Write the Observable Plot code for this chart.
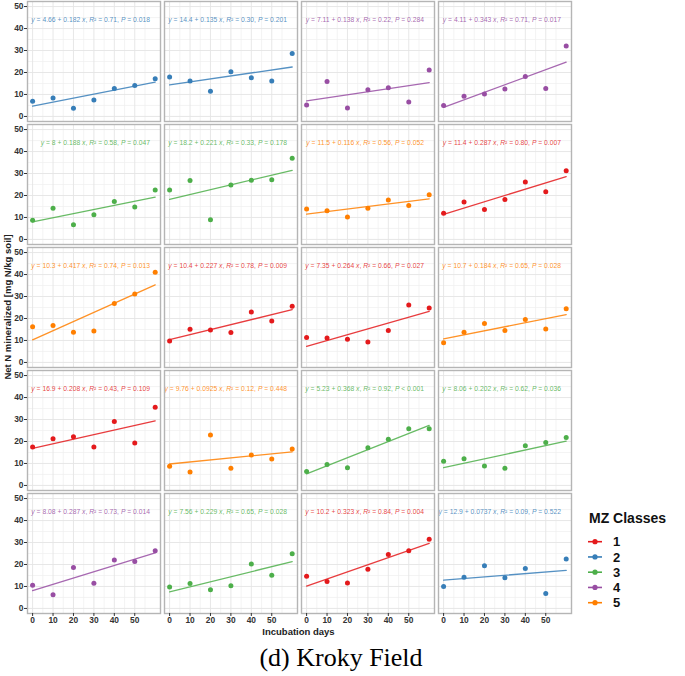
<!DOCTYPE html>
<html><head><meta charset="utf-8">
<script src="https://cdn.jsdelivr.net/npm/d3@7"></script>
<script src="https://cdn.jsdelivr.net/npm/@observablehq/plot@0.6"></script>
<style>
body{margin:0;background:#fff;font-family:"Liberation Sans",Arial,sans-serif;}
#wrap{position:relative;width:685px;height:676px;overflow:hidden;}
#chart{position:absolute;left:0;top:0;}
#legend{position:absolute;left:585px;top:505px;}
#caption{position:absolute;left:0;width:682px;top:643px;text-align:center;font-family:"Liberation Serif","Times New Roman",serif;font-size:26px;line-height:30px;color:#000;}
</style></head><body>
<div id="wrap"><div id="chart"></div><div id="legend"></div><div id="caption">(d) Kroky Field</div></div>
<script>
const days = [0, 10, 20, 30, 40, 50, 60];
const classes = [1, 2, 3, 4, 5];
const classColors = ["#E41A1C", "#377EB8", "#4DAF4A", "#984EA3", "#FF7F00"];
const panelClass = [2, 2, 4, 4, 3, 3, 5, 1, 5, 1, 1, 5, 1, 5, 3, 3, 4, 3, 1, 2];
const intercepts = [4.66, 14.4, 7.11, 4.11, 8, 18.2, 11.5, 11.4, 10.3, 10.4, 7.35, 10.7, 16.9, 9.76, 5.23, 8.06, 8.08, 7.56, 10.2, 12.9];
const slopes = [0.182, 0.135, 0.138, 0.343, 0.188, 0.221, 0.116, 0.287, 0.417, 0.227, 0.264, 0.184, 0.208, 0.0925, 0.368, 0.202, 0.287, 0.229, 0.323, 0.0737];
const r2Labels = ["0.71", "0.30", "0.22", "0.71", "0.58", "0.33", "0.56", "0.80", "0.74", "0.78", "0.66", "0.65", "0.43", "0.12", "0.92", "0.62", "0.73", "0.65", "0.84", "0.09"];
const pLabels = ["= 0.018", "= 0.201", "= 0.284", "= 0.017", "= 0.047", "= 0.178", "= 0.052", "= 0.007", "= 0.013", "= 0.009", "= 0.027", "= 0.028", "= 0.109", "= 0.448", "< 0.001", "= 0.036", "= 0.014", "= 0.028", "= 0.004", "= 0.522"];
const netN = [
  [6.9, 8.4, 3.7, 7.5, 12.7, 14.1, 17.1],
  [18.0, 16.1, 11.5, 20.3, 17.6, 16.1, 28.6],
  [5.2, 15.9, 3.8, 12.2, 13.1, 6.6, 21.1],
  [5.0, 9.2, 10.2, 12.5, 18.2, 12.7, 32.0],
  [8.7, 14.2, 6.7, 11.2, 17.3, 14.8, 22.5],
  [22.5, 26.8, 9.0, 24.8, 26.9, 27.2, 36.9],
  [13.8, 13.0, 10.2, 14.2, 18.0, 15.4, 20.3],
  [11.9, 17.0, 13.6, 18.2, 26.1, 21.7, 31.3],
  [16.2, 16.8, 13.7, 14.3, 26.8, 31.1, 41.0],
  [9.8, 15.1, 14.8, 13.6, 22.9, 18.9, 25.6],
  [11.3, 11.1, 10.5, 9.3, 14.5, 26.1, 24.8],
  [9.0, 13.7, 17.7, 14.5, 19.5, 15.2, 24.4],
  [17.5, 21.2, 22.1, 17.5, 29.1, 19.3, 35.6],
  [8.7, 6.1, 22.9, 7.8, 13.8, 12.0, 16.6],
  [6.4, 9.5, 8.1, 17.2, 21.0, 25.8, 25.8],
  [11.0, 12.1, 8.9, 7.8, 18.1, 19.5, 21.8],
  [10.5, 6.2, 18.6, 11.5, 22.0, 21.4, 26.2],
  [9.8, 11.4, 8.5, 10.3, 20.2, 15.1, 24.9],
  [14.6, 12.3, 11.6, 17.8, 24.5, 26.2, 31.5],
  [10.0, 14.2, 19.4, 14.0, 18.2, 6.8, 22.5]
];
const yTicks = [0, 10, 20, 30, 40, 50];
const xTicks = [0, 10, 20, 30, 40, 50];
const yMinor = [5, 15, 25, 35, 45];
const xMinor = [5, 15, 25, 35, 45, 55];
const xTitle = "Incubation days";
const yTitle = "Net N mineralized [mg N/kg soil]";
const legendTitle = "MZ Classes";

const NCOL = 4;
const points = netN.flatMap((vals, i) => vals.map((v, j) => ({
  panel: i, row: Math.floor(i / NCOL), col: i % NCOL, cls: panelClass[i], day: days[j], val: v
})));
const lineData = intercepts.flatMap((a, i) => [days[0], days[days.length - 1]].map(d => ({
  panel: i, row: Math.floor(i / NCOL), col: i % NCOL, cls: panelClass[i], day: d, val: a + slopes[i] * d
})));
const eqData = intercepts.map((a, i) => ({
  panel: i, row: Math.floor(i / NCOL), col: i % NCOL, cls: panelClass[i],
  label: `y = ${a} + ${slopes[i]} x, R² = ${r2Labels[i]}, P ${pLabels[i]}`
}));

const FONT = "Liberation Sans, Arial, sans-serif";
const svg = Plot.plot({
  width: 580, height: 640,
  marginLeft: 25, marginRight: 8, marginTop: 1, marginBottom: 27,
  style: {fontFamily: FONT, background: "#fff"},
  x: {domain: [-2.5, 62.6]},
  y: {domain: [-2.3, 52.3]},
  fx: {axis: null, paddingInner: 0.03, paddingOuter: 0},
  fy: {axis: null, paddingInner: 0.025, paddingOuter: 0},
  color: {type: "ordinal", domain: classes, range: classColors},
  marks: [
    Plot.gridX(xMinor, {stroke: "#efefef", strokeOpacity: 1, strokeWidth: 0.7}),
    Plot.gridY(yMinor, {stroke: "#efefef", strokeOpacity: 1, strokeWidth: 0.7}),
    Plot.gridX(xTicks, {stroke: "#e4e4e4", strokeOpacity: 1, strokeWidth: 0.9}),
    Plot.gridY(yTicks, {stroke: "#e4e4e4", strokeOpacity: 1, strokeWidth: 0.9}),
    Plot.line(lineData, {x: "day", y: "val", z: "panel", fx: "col", fy: "row", stroke: "cls", strokeWidth: 1.3, strokeOpacity: 0.85}),
    Plot.dot(points, {x: "day", y: "val", fx: "col", fy: "row", fill: "cls", r: 2.5}),
    Plot.text(eqData, {text: "label", fx: "col", fy: "row", fill: "cls", fillOpacity: 0.85,
      frameAnchor: "top-right", textAnchor: "end", dx: -10.5, dy: 16, fontSize: 6.75, className: "eq"}),
    Plot.frame({stroke: "#b5b5b5", strokeWidth: 1.4}),
    Plot.axisY(yTicks, {tickSize: 3, tickPadding: 1, fontSize: 8.4, fontWeight: "bold", color: "#333", label: null}),
    Plot.axisX(xTicks, {tickSize: 3, tickPadding: 1, fontSize: 8.4, fontWeight: "bold", color: "#333", label: null})
  ]
});

// italic math symbols in the equation labels
d3.select(svg).selectAll(".eq text").each(function () {
  const t = this.textContent;
  this.innerHTML = t
    .replace(/^y/, '<tspan font-style="italic">y</tspan>')
    .replace(/ x,/, ' <tspan font-style="italic">x</tspan>,')
    .replace("R²", '<tspan font-style="italic">R</tspan>²')
    .replace(/P ([=<])/, '<tspan font-style="italic">P</tspan> $1');
});

const s = d3.select(svg);
s.append("text").attr("transform", "translate(10.5,307) rotate(-90)")
  .attr("text-anchor", "middle").attr("font-weight", "bold").attr("font-size", 9.5)
  .attr("fill", "#222").attr("font-family", FONT).text(yTitle);
s.append("text").attr("x", 298.5).attr("y", 634.5)
  .attr("text-anchor", "middle").attr("font-weight", "bold").attr("font-size", 9.5)
  .attr("fill", "#222").attr("font-family", FONT).text(xTitle);

document.getElementById("chart").appendChild(svg);

// legend
const lg = d3.select("#legend").append("svg").attr("width", 100).attr("height", 110)
  .attr("font-family", FONT);
lg.append("text").attr("x", 4).attr("y", 18).attr("font-size", 14).attr("font-weight", "bold")
  .attr("fill", "#111").text(legendTitle);
classes.forEach((c, i) => {
  const cy = 36.7 + 15.25 * i;
  const g = lg.append("g");
  g.append("line").attr("x1", 3).attr("x2", 17).attr("y1", cy).attr("y2", cy)
    .attr("stroke", classColors[i]).attr("stroke-width", 1.6);
  g.append("circle").attr("cx", 10).attr("cy", cy).attr("r", 2.6).attr("fill", classColors[i]);
  g.append("text").attr("x", 28).attr("y", cy + 4.7).attr("font-size", 13).attr("font-weight", "bold")
    .attr("fill", "#111").text(String(c));
});
</script>
</body></html>
